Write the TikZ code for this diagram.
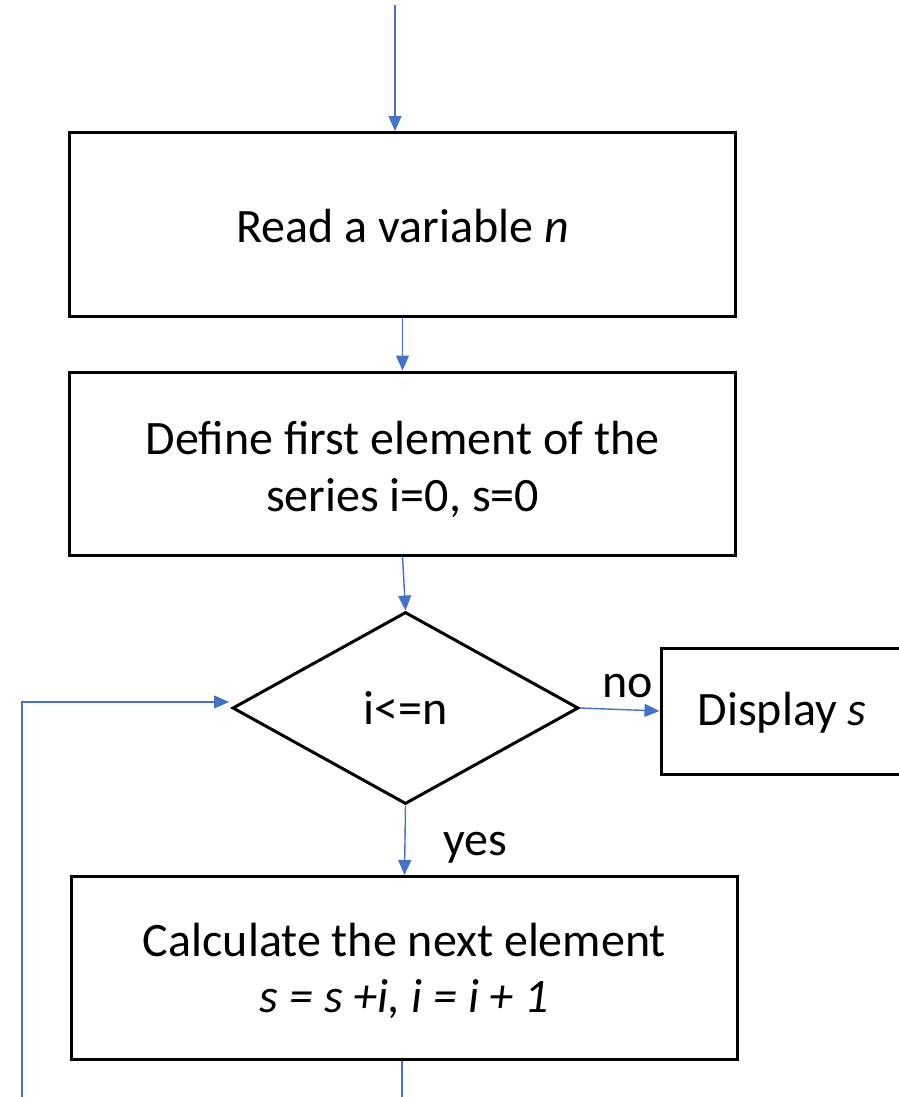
\documentclass[tikz,border=0pt]{standalone}
\usepackage{fontspec}
\setmainfont{Carlito}
\usetikzlibrary{arrows.meta,shapes.geometric}
\definecolor{flowblue}{HTML}{4472C4}
% lowers its text by #1 while the node keeps the text's natural size
\newcommand{\lowered}[2]{\raisebox{-#1}[\height][\depth]{#2}}
\newcommand{\twolines}[3]{\lowered{#1}{\begin{tabular}{@{}c@{}}#2\\#3\end{tabular}}}
\tikzset{
  procbox/.style={draw=black, line width=3bp, minimum width=665bp,
    minimum height=184bp, align=center, inner sep=0pt},
  decision/.style={draw=black, line width=3bp, diamond, minimum width=346bp,
    minimum height=192bp, inner sep=0pt},
  flow/.style={draw=flowblue, line width=1.4bp,
    -{Triangle[length=15bp,width=13bp]}},
  flowline/.style={draw=flowblue, line width=1.4bp},
  lbl/.style={inner sep=0pt}
}
\begin{document}
\begin{tikzpicture}[x=1bp, y=-1bp, font=\fontsize{48bp}{56.5bp}\selectfont]
  \useasboundingbox (0,0) rectangle (899,1097);
  \clip (0,0) rectangle (899,1097);

  % process steps
  \node[procbox] (read) at (402.5,224.5) {\lowered{2bp}{Read a variable \textit{n}}};
  \node[procbox, minimum height=183bp] (init) at (402.5,463.5)
    {\twolines{8bp}{Define first element of the}{series i=0, s=0}};
  \node[decision] (test) at (405.5,708) {i<=n};
  \node[draw=black, line width=3bp, minimum width=242bp, minimum height=126bp,
    inner sep=0pt] (show) at (782,711) {\lowered{2bp}{Display \textit{s}}};
  \node[procbox, minimum height=183bp] (step) at (404.5,968)
    {\twolines{5bp}{Calculate the next element}{\textit{s = s +i, i = i + 1}}};

  % branch labels
  \node[lbl] (no) at (628,686) {no};
  \node[lbl] (yes) at (475,848) {yes};

  % loose ends of the flow
  \coordinate (entry) at (395,5);
  \coordinate (exit) at (402,1097);
  \coordinate (back) at (22,1097);

  % connectors
  \draw[flow] (entry) -- (entry |- read.north);
  \draw[flow] (read.south) -- (init.north);
  \draw[flow] (init.south) -- (test.north);
  \draw[flow] (test.east) -- (show.west);
  \draw[flow] (test.south) -- (step.north);
  \draw[flowline] (step.south -| exit) -- (exit);
  \draw[flow] (back) |- ([yshift=6bp,xshift=-2bp]test.west);
\end{tikzpicture}
\end{document}
